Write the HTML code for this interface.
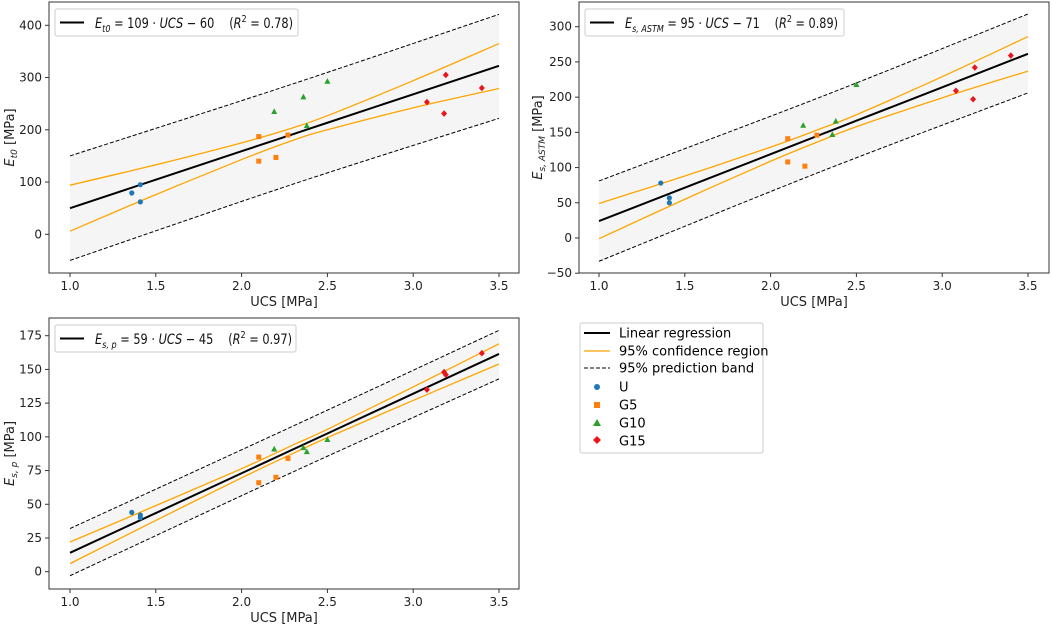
<!DOCTYPE html>
<html><head><meta charset="utf-8"><style>
body{margin:0;background:#fff;}
svg{display:block;font-family:"DejaVu Sans","Liberation Sans",sans-serif;}
</style></head><body>
<svg id="fig" width="1052" height="624">
<g id="legend-main">
<rect x="580" y="323" width="183" height="130" fill="#fff" stroke="#ccc" rx="2"/>
<line x1="584" y1="333" x2="610" y2="333" stroke="#000" stroke-width="2"/>
<text x="619" y="337.5" font-size="13">Linear regression</text>
<line x1="584" y1="351" x2="610" y2="351" stroke="orange" stroke-width="1.3"/>
<text x="619" y="355.5" font-size="13">95% confidence region</text>
<line x1="584" y1="368" x2="610" y2="368" stroke="#000" stroke-width="1" stroke-dasharray="4,2"/>
<text x="619" y="372.5" font-size="13">95% prediction band</text>
<circle cx="597" cy="387" r="3" fill="#1f77b4"/><text x="619" y="391.5" font-size="13">U</text>
<rect x="594" y="402" width="6" height="6" fill="#ff7f0e"/><text x="619" y="409.5" font-size="13">G5</text>
<path d="M597,419 L601,426 L593,426Z" fill="#2ca02c"/><text x="619" y="427.5" font-size="13">G10</text>
<path d="M597,436 L601,440 L597,444 L593,440Z" fill="#e8151a"/><text x="619" y="445.5" font-size="13">G15</text>
</g>
</svg>
<script>
const NS="http://www.w3.org/2000/svg";
const fig=document.getElementById('fig');
const ucsU=[1.36,1.41,1.41], ucsG5=[2.10,2.10,2.20,2.27], ucsG10=[2.19,2.36,2.38,2.50], ucsG15=[3.08,3.18,3.19,3.40];
const bandX=[1.0,1.5,2.0,2.3,2.5,3.0,3.5];
const predX=[1.0,2.3,3.5];
// plot 1
const p1U=[79,95,62], p1G5=[187,140,147,190], p1G10=[235,263,208,293], p1G15=[253,231,305,280];
const p1Line=[50,104.5,159,191.7,213.5,268,322.5];
const p1ConfHi=[94,133,175,204,227,294,365], p1ConfLo=[6,76,143,180,200,242,279];
const p1PredHi=[150,288,421], p1PredLo=[-50,96,222];
const p1Ticks=[0,100,200,300,400];
// plot 2
const p2U=[78,57,50], p2G5=[141,108,102,146], p2G10=[160,147,166,218], p2G15=[209,197,242,259];
const p2Line=[24,71.5,119,147.5,166.5,214,261.5];
const p2ConfHi=[49,88,129,156,175,229,286], p2ConfLo=[-1,55,109,139,158,199,237];
const p2PredHi=[81,201,318], p2PredLo=[-33,95,206];
const p2Ticks=[-50,0,50,100,150,200,250,300];
// plot 3
const p3U=[44,42,40], p3G5=[85,66,70,84], p3G10=[91,92,89,98], p3G15=[135,148,146,162];
const p3Line=[14,43.5,73,90.7,102.5,132,161.5];
const p3ConfHi=[22,49,76.4,94,105.6,137,169], p3ConfLo=[6,38,69.6,87.7,99.4,127,154];
const p3PredHi=[32,108,179], p3PredLo=[-3,74,143];
const p3Ticks=[0,25,50,75,100,125,150,175];
const xTicks=[1.0,1.5,2.0,2.5,3.0,3.5];

function mk(tag,attrs,parent){const e=document.createElementNS(NS,tag);for(const k in attrs)e.setAttribute(k,attrs[k]);(parent||fig).appendChild(e);return e;}
function smooth(pts){let d='M'+pts[0][0]+','+pts[0][1];
 for(let i=0;i<pts.length-1;i++){const p0=pts[Math.max(0,i-1)],p1=pts[i],p2=pts[i+1],p3=pts[Math.min(pts.length-1,i+2)];
  d+=' C'+(p1[0]+(p2[0]-p0[0])/6)+','+(p1[1]+(p2[1]-p0[1])/6)+' '+(p2[0]-(p3[0]-p1[0])/6)+','+(p2[1]-(p3[1]-p1[1])/6)+' '+p2[0]+','+p2[1];}
 return d;}
function plot(cfg){
 const {L,R,T,B,x1px,x35px,yv0,yv1,ypx0,ypx1}=cfg;
 const g=mk('g',{});
 
 
 const sx=v=>x1px+(v-1)*(x35px-x1px)/2.5;
 const sy=v=>ypx0+(v-yv0)*(ypx1-ypx0)/(yv1-yv0);
 const hi=predX.map((x,i)=>[sx(x),sy(cfg.predHi[i])]), lo=predX.map((x,i)=>[sx(x),sy(cfg.predLo[i])]);
 const fill=mk('path',{d:smooth(hi)+' L'+smooth(lo.slice().reverse()).slice(1)+' Z',fill:'#f5f5f5'},g);
 
 
 const ph=mk('path',{d:smooth(hi),fill:'none',stroke:'#000','stroke-width':1,'stroke-dasharray':'4,2'},g);
 
 
 const pl=mk('path',{d:smooth(lo),fill:'none',stroke:'#000','stroke-width':1,'stroke-dasharray':'4,2'},g);
 
 
 const ch=mk('path',{d:smooth(bandX.map((x,i)=>[sx(x),sy(cfg.confHi[i])])),fill:'none',stroke:'orange','stroke-width':1.3},g);
 
 
 const cl=mk('path',{d:smooth(bandX.map((x,i)=>[sx(x),sy(cfg.confLo[i])])),fill:'none',stroke:'orange','stroke-width':1.3},g);
 
 
 const rl=mk('path',{d:'M'+bandX.map((x,i)=>sx(x)+','+sy(cfg.line[i])).join(' L'),fill:'none',stroke:'#000','stroke-width':2},g);
 
 
 ucsU.forEach((x,i)=>{const c=mk('circle',{cx:sx(x),cy:sy(cfg.U[i]),r:2.6,fill:'#1f77b4'},g);
  
  });
 ucsG5.forEach((x,i)=>{const X=sx(x),Y=sy(cfg.G5[i]);const c=mk('rect',{x:X-2.5,y:Y-2.5,width:5,height:5,fill:'#ff7f0e'},g);
  
  });
 ucsG10.forEach((x,i)=>{const X=sx(x),Y=sy(cfg.G10[i]);const c=mk('path',{d:`M${X},${Y-3.2} L${X+3},${Y+2.5} L${X-3},${Y+2.5}Z`,fill:'#2ca02c'},g);
  
  });
 ucsG15.forEach((x,i)=>{const X=sx(x),Y=sy(cfg.G15[i]);const c=mk('path',{d:`M${X},${Y-3.3} L${X+3},${Y} L${X},${Y+3.3} L${X-3},${Y}Z`,fill:'#e8151a'},g);
  
  });
 const fr=mk('rect',{x:L,y:T,width:R-L,height:B-T,fill:'none',stroke:'#333','stroke-width':1},g);
 
 
 xTicks.forEach(v=>{mk('line',{x1:sx(v),x2:sx(v),y1:B,y2:B+4,stroke:'#333'},g);
  const t=mk('text',{x:sx(v),y:B+17,'font-size':12,'text-anchor':'middle',fill:'#222'},g);t.textContent=v.toFixed(1);
  
  });
 cfg.ticks.forEach(v=>{mk('line',{x1:L-4,x2:L,y1:sy(v),y2:sy(v),stroke:'#333'},g);
  const t=mk('text',{x:L-7,y:sy(v)+4,'font-size':12,'text-anchor':'end',fill:'#222'},g);t.textContent=(v<0?'\u2212'+(-v):v);
  
  });
 const xl=mk('text',{x:(L+R)/2,y:B+33,'font-size':13,'text-anchor':'middle',fill:'#222'},g);xl.textContent='UCS [MPa]';
 
 
 const yl=mk('text',{transform:`translate(${cfg.ylx},${(T+B)/2}) rotate(-90)`,'font-size':13,'text-anchor':'middle',fill:'#222'},g);yl.innerHTML=cfg.ylab;
 
 
 const lg=mk('g',{},g);
 
 
 mk('rect',{x:L+6,y:T+7,width:cfg.lw,height:27,fill:'#fff',stroke:'#ccc',rx:2},lg);
 mk('line',{x1:L+11,x2:L+35,y1:T+20.5,y2:T+20.5,stroke:'#000','stroke-width':2},lg);
 const et=mk('text',{x:L+46,y:T+26,'font-size':14,fill:'#111',textLength:cfg.tl,lengthAdjust:'spacingAndGlyphs'},lg);et.innerHTML=cfg.eq;
}
plot({name:'plot-et0',L:49,R:519,T:2,B:273,x1px:70,x35px:499,yv0:0,yv1:400,ypx0:234.3,ypx1:25.3,
 U:p1U,G5:p1G5,G10:p1G10,G15:p1G15,line:p1Line,confHi:p1ConfHi,confLo:p1ConfLo,predHi:p1PredHi,predLo:p1PredLo,ticks:p1Ticks,
 ylx:14,ylab:'<tspan font-style="italic">E</tspan><tspan font-size="9" dy="3" font-style="italic">t0</tspan><tspan dy="-3"> [MPa]</tspan>',lw:243,tl:198,
 eq:'<tspan font-style="italic">E</tspan><tspan font-size="10" dy="4" font-style="italic">t0</tspan><tspan dy="-4"> = 109 · </tspan><tspan font-style="italic">UCS</tspan> − 60 \u2003(<tspan font-style="italic">R</tspan><tspan font-size="10" dy="-6">2</tspan><tspan dy="6"> = 0.78)</tspan>'});
plot({name:'plot-es-astm',L:579,R:1049,T:2,B:273,x1px:599,x35px:1028,yv0:0,yv1:300,ypx0:238,ypx1:26.7,
 U:p2U,G5:p2G5,G10:p2G10,G15:p2G15,line:p2Line,confHi:p2ConfHi,confLo:p2ConfLo,predHi:p2PredHi,predLo:p2PredLo,ticks:p2Ticks,
 ylx:542,ylab:'<tspan font-style="italic">E</tspan><tspan font-size="9" dy="3" font-style="italic">s, ASTM</tspan><tspan dy="-3"> [MPa]</tspan>',lw:259,tl:213,
 eq:'<tspan font-style="italic">E</tspan><tspan font-size="10" dy="4" font-style="italic">s, ASTM</tspan><tspan dy="-4"> = 95 · </tspan><tspan font-style="italic">UCS</tspan> − 71 \u2003(<tspan font-style="italic">R</tspan><tspan font-size="10" dy="-6">2</tspan><tspan dy="6"> = 0.89)</tspan>'});
plot({name:'plot-es-p',L:49,R:519,T:318,B:589,x1px:70,x35px:499,yv0:0,yv1:175,ypx0:571.7,ypx1:335.7,
 U:p3U,G5:p3G5,G10:p3G10,G15:p3G15,line:p3Line,confHi:p3ConfHi,confLo:p3ConfLo,predHi:p3PredHi,predLo:p3PredLo,ticks:p3Ticks,
 ylx:14,ylab:'<tspan font-style="italic">E</tspan><tspan font-size="9" dy="3" font-style="italic">s, p</tspan><tspan dy="-3"> [MPa]</tspan>',lw:241,tl:197,
 eq:'<tspan font-style="italic">E</tspan><tspan font-size="10" dy="4" font-style="italic">s, p</tspan><tspan dy="-4"> = 59 · </tspan><tspan font-style="italic">UCS</tspan> − 45 \u2003(<tspan font-style="italic">R</tspan><tspan font-size="10" dy="-6">2</tspan><tspan dy="6"> = 0.97)</tspan>'});
fig.appendChild(document.getElementById('legend-main'));
</script>
</body></html>
